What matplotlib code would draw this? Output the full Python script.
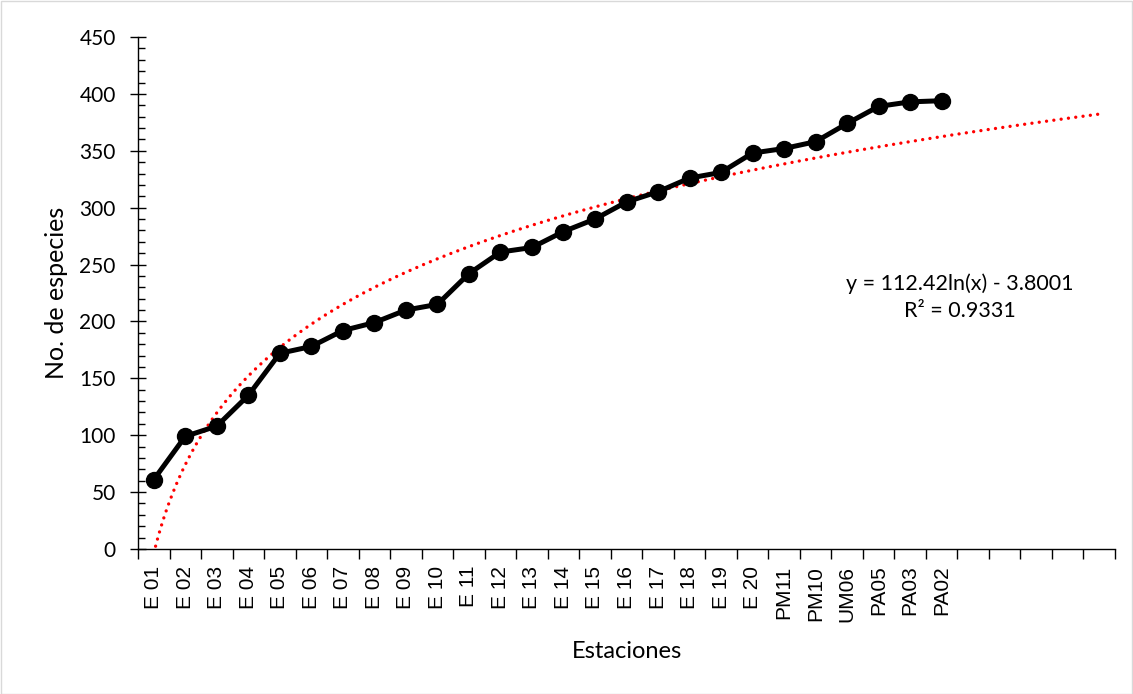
import numpy as np
import matplotlib
matplotlib.use("Agg")
import matplotlib.pyplot as plt
from matplotlib.ticker import MultipleLocator, FixedLocator, NullFormatter
from matplotlib.patches import Rectangle

stations = ["E 01", "E 02", "E 03", "E 04", "E 05", "E 06", "E 07", "E 08", "E 09", "E 10",
            "E 11", "E 12", "E 13", "E 14", "E 15", "E 16", "E 17", "E 18", "E 19", "E 20",
            "PM11", "PM10", "UM06", "PA05", "PA03", "PA02"]
species = [61, 99, 108, 135, 172, 178, 192, 199, 210, 215,
           242, 261, 265, 279, 290, 305, 314, 326, 331, 348,
           352, 358, 374, 389, 393, 394]
n_categories = 31
trend_a = 112.42
trend_b = -3.8001
r_squared = 0.9331

W, H = 1133, 694
fig = plt.figure(figsize=(W / 100, H / 100), dpi=100)
ax = fig.add_axes([138 / W, 1 - 549 / H, (1115 - 138) / W, (549 - 37) / H])

text_font = ["Lato", "DejaVu Sans"]
tick_font = ["Liberation Sans", "DejaVu Sans"]

x = np.arange(1, len(species) + 1)
ax.plot(x, species, color="black", lw=3.6, marker="o", markersize=11.5, zorder=3,
        solid_joinstyle="round")

xt = np.linspace(1, n_categories, 400)
yt = trend_a * np.log(xt) + trend_b
ax.plot(xt, yt, color="#FF0000", lw=2.4, linestyle=(0, (0.01, 2.2)),
        dash_capstyle="round", zorder=2)

ax.set_xlim(0.5, n_categories + 0.5)
ax.set_ylim(0, 450)

for s in ["top", "right"]:
    ax.spines[s].set_visible(False)
for s in ["left", "bottom"]:
    ax.spines[s].set_color("black")
    ax.spines[s].set_linewidth(1.0)

# y ticks
ax.yaxis.set_major_locator(MultipleLocator(50))
ax.yaxis.set_minor_locator(MultipleLocator(10))
ax.tick_params(axis="y", which="major", direction="inout", length=12, width=1.0,
               pad=10, labelsize=15)
ax.tick_params(axis="y", which="minor", direction="in", length=5, width=1.0)
for lab in ax.get_yticklabels():
    lab.set_family(text_font)

# x ticks: category boundaries as ticks, labels at centers
ax.xaxis.set_major_locator(FixedLocator(np.arange(0.5, n_categories + 1, 1)))
ax.xaxis.set_major_formatter(NullFormatter())
ax.xaxis.set_minor_locator(FixedLocator(x))
ax.set_xticks(x, stations, minor=True)
ax.tick_params(axis="x", which="major", direction="out", length=7, width=1.0)
ax.tick_params(axis="x", which="minor", length=0, pad=12, labelsize=15,
               labelrotation=90)
for lab in ax.get_xticklabels(minor=True):
    lab.set_family(tick_font)

ax.set_ylabel("No. de especies", fontsize=18, family=text_font, labelpad=8)
ax.set_xlabel("Estaciones", fontsize=17, family=text_font, labelpad=14)

ax.text(960 / W, 1 - 284 / H, f"y = {trend_a}ln(x) - {abs(trend_b):.4f}",
        transform=fig.transFigure, ha="center", va="center", fontsize=15.5,
        family=text_font)
ax.text(960 / W, 1 - 311 / H, f"R² = {r_squared}",
        transform=fig.transFigure, ha="center", va="center", fontsize=15.5,
        family=text_font)

fig.patches.append(Rectangle((0.5 / W, 0.5 / H), 1 - 1.5 / W, 1 - 1.5 / H,
                             transform=fig.transFigure, fill=False,
                             edgecolor="#D9D9D9", lw=1.0))

fig.savefig("out.png", dpi=100)
